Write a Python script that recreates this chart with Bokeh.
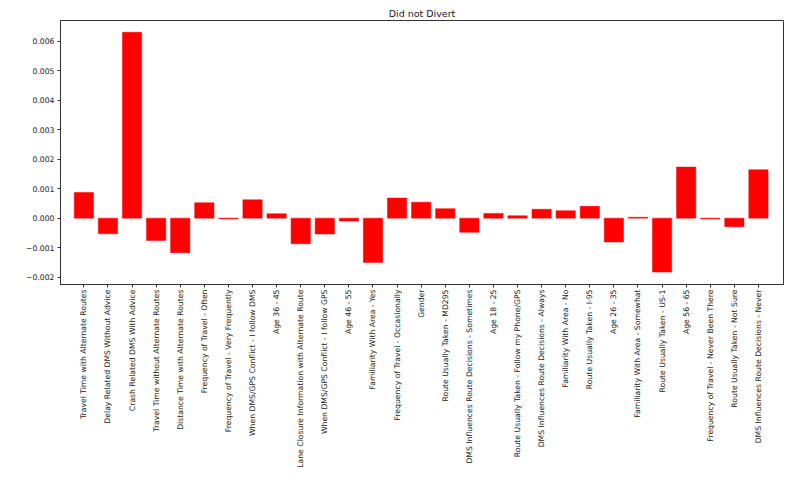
import numpy as np
from bokeh.plotting import figure
from bokeh.models import Range1d, FixedTicker, CustomJSTickFormatter, ColumnDataSource
from bokeh.embed import file_html
from bokeh.resources import INLINE

categories = [
    "Travel Time with Alternate Routes",
    "Delay Related DMS Without Advice",
    "Crash Related DMS With Advice",
    "Travel Time without Alternate Routes",
    "Distance Time with Alternate Routes",
    "Frequency of Travel - Often",
    "Frequency of Travel - Very Frequently",
    "When DMS/GPS Conflict - I follow DMS",
    "Age 36 - 45",
    "Lane Closure Information with Alternate Route",
    "When DMS/GPS Conflict - I follow GPS",
    "Age 46 - 55",
    "Familiarity With Area - Yes",
    "Frequency of Travel - Occasionally",
    "Gender",
    "Route Usually Taken - MD295",
    "DMS Influences Route Decisions - Sometimes",
    "Age 18 - 25",
    "Route Usually Taken - Follow my Phone/GPS",
    "DMS Influences Route Decisions - Always",
    "Familiarity With Area - No",
    "Route Usually Taken - I-95",
    "Age 26 - 35",
    "Familiarity With Area - Somewhat",
    "Route Usually Taken - US-1",
    "Age 56 - 65",
    "Frequency of Travel - Never Been There",
    "Route Usually Taken - Not Sure",
    "DMS Influences Route Decisions - Never",
]

values = [
    0.00087, -0.00053, 0.0063, -0.00076, -0.00117, 0.00052, -0.00003,
    0.00062, 0.00015, -0.00087, -0.00054, -0.0001, -0.0015, 0.00068,
    0.00054, 0.00032, -0.00048, 0.00016, 0.00008, 0.0003, 0.00025,
    0.0004, -0.00081, 0.00003, -0.00183, 0.00173, -0.00003, -0.00029,
    0.00164,
]

y_ticks = [-0.002, -0.001, 0.0, 0.001, 0.002, 0.003, 0.004, 0.005, 0.006]

idx = list(range(len(categories)))
src = ColumnDataSource(dict(x=idx, top=values))

p = figure(width=784, height=475, output_backend="svg", toolbar_location=None,
           x_range=Range1d(-0.97, 29.04), y_range=Range1d(-0.00225, 0.0067),
           title="Did not Divert",
           min_border_left=60, min_border_right=1, min_border_bottom=191, min_border_top=20)

p.vbar(x="x", top="top", bottom=0, width=0.8, source=src, fill_color="#ff0000",
       line_color="#ff0000", line_width=0.5)

p.title.align = "center"
p.title.text_font = "DejaVu Sans"
p.title.text_font_size = "9.5px"
p.title.text_font_style = "normal"
p.title.text_color = "#222222"
p.title.standoff = 4

p.xgrid.visible = False
p.ygrid.visible = False
p.outline_line_color = "#333333"
p.outline_line_width = 1

for ax in (p.xaxis[0], p.yaxis[0]):
    ax.axis_line_color = "#333333"
    ax.major_tick_in = 0
    ax.major_tick_out = 3
    ax.minor_tick_in = 0
    ax.minor_tick_out = 0
    ax.major_tick_line_color = "#333333"
    ax.major_label_text_font = "DejaVu Sans"
    ax.major_label_text_color = "#222222"
    ax.major_label_standoff = 3

p.xaxis[0].major_label_text_font_size = "7.7px"
p.xaxis[0].major_label_standoff = 2
p.yaxis[0].major_label_text_font_size = "7.7px"

p.xaxis[0].ticker = FixedTicker(ticks=idx)
p.xaxis[0].major_label_overrides = {i: c for i, c in zip(idx, categories)}
p.xaxis[0].major_label_orientation = np.pi / 2

p.yaxis[0].ticker = FixedTicker(ticks=y_ticks)
p.yaxis[0].formatter = CustomJSTickFormatter(
    code="return (tick < -1e-12 ? '\u2212' : '') + Math.abs(tick).toFixed(3);")

open("out.html", "w").write(file_html(p, INLINE))
